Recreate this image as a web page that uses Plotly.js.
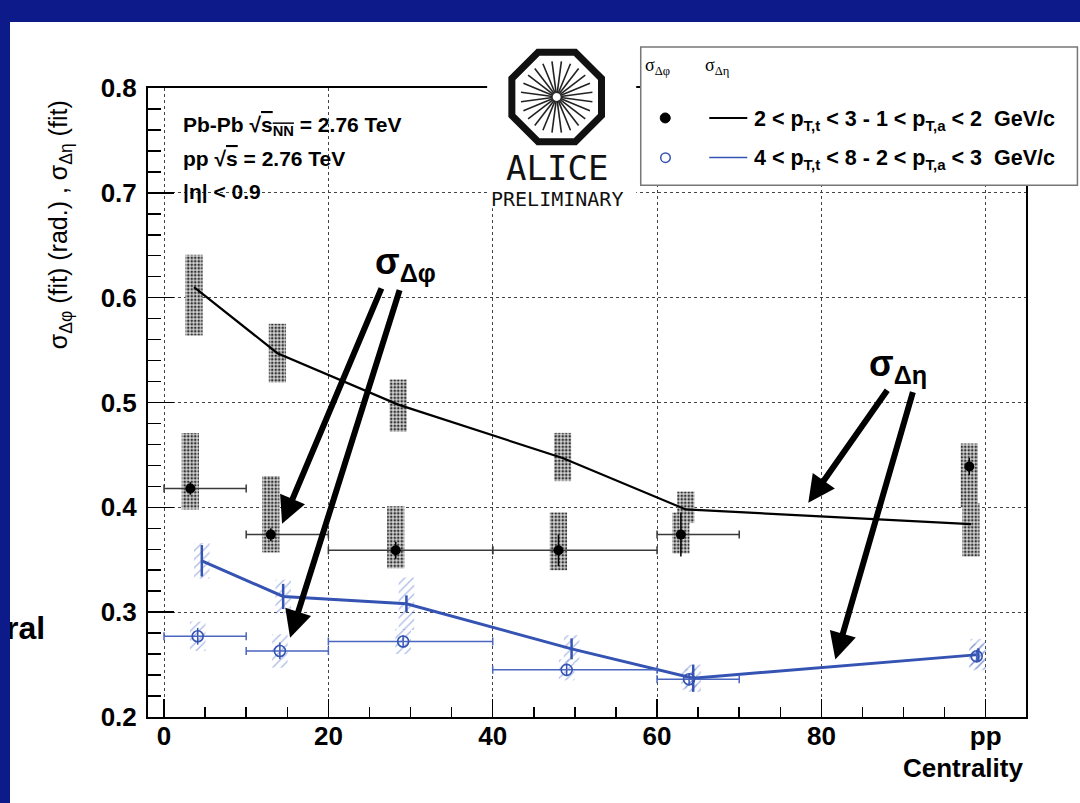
<!DOCTYPE html>
<html><head><meta charset="utf-8">
<script src="https://cdn.plot.ly/plotly-3.0.1.min.js"></script>
<style>
html,body{margin:0;padding:0;background:#0c1a8a;width:1080px;height:803px;overflow:hidden;}
#plot{position:absolute;left:10px;top:22px;width:1070px;height:781px;background:#fff;}
</style></head><body><div id="plot"></div>
<script>
// ---------------- data ----------------
const centralityTicks = [0, 20, 40, 60, 80, 100];
const centralityTickText = ['0', '20', '40', '60', '80', 'pp'];
const binLow  = [0, 10, 20, 40, 60, null];
const binHigh = [10, 20, 40, 60, 70, null];

// 2<pTt<3 - 1<pTa<2 GeV/c  (black)
const phiX_low     = [3.2, 13.0, 28.2, 48.0, 62.9, 98.0];
const phiY_low     = [0.418, 0.374, 0.359, 0.359, 0.374, 0.439];
const phiStat_low  = [0.006, 0.006, 0.008, 0.015, 0.021, 0.008];
const phiSysUp_low = [0.053, 0.056, 0.042, 0.036, 0.021, 0.022];
const phiSysDn_low = [0.020, 0.017, 0.017, 0.019, 0.018, 0.039];

const etaX_low     = [3.65, 13.8, 28.5, 48.5, 63.5, 98.2];
const etaY_low     = [0.610, 0.547, 0.498, 0.447, 0.398, 0.384];
const etaSysUp_low = [0.031, 0.028, 0.024, 0.024, 0.017, 0.020];
const etaSysDn_low = [0.046, 0.028, 0.026, 0.022, 0.013, 0.031];

// 4<pTt<8 - 2<pTa<3 GeV/c  (blue)
const phiX_high    = [4.1, 14.1, 29.1, 49.0, 63.9, 98.9];
const phiY_high    = [0.277, 0.263, 0.272, 0.245, 0.236, 0.258];
const phiStat_high = [0.008, 0.008, 0.006, 0.006, 0.006, 0.006];
const phiSys_high  = [0.014, 0.016, 0.012, 0.010, 0.010, 0.012];

const etaX_high    = [4.6, 14.5, 29.5, 49.6, 64.4, 99.1];
const etaY_high    = [0.349, 0.315, 0.308, 0.265, 0.237, 0.2595];
const etaStat_high = [0.015, 0.012, 0.008, 0.010, 0.013, 0.006];
const etaSys_high  = [0.017, 0.016, 0.025, 0.013, 0.013, 0.015];

// ---------------- helpers ----------------
const BLUE = '#3553b3';
const FONT = 'Liberation Sans, Arial, sans-serif';
const errPlus  = (xs) => xs.map((x, i) => binHigh[i] == null ? null : binHigh[i] - x);
const errMinus = (xs) => xs.map((x, i) => binLow[i] == null ? null : x - binLow[i]);
const PX = (X) => (X - 148) / 877.6;   // page px -> paper
const PY = (Y) => (717.5 - Y) / 630;

const grayBox = {color: '#9a9a9a', line: {width: 0},
  pattern: {shape: '.', fgcolor: '#333', bgcolor: '#d4d4d4', size: 3.5, solidity: 0.45, fillmode: 'replace'}};
const hatchBox = {color: 'rgba(0,0,0,0)', line: {width: 0},
  pattern: {shape: '/', fgcolor: '#5a78cc', bgcolor: 'rgba(0,0,0,0)', size: 6, solidity: 0.22, fillmode: 'overlay'}};

const traces = [
  // systematic boxes (black series)
  {type: 'bar', x: etaX_low, base: etaY_low.map((y, i) => y - etaSysDn_low[i]),
   y: etaSysUp_low.map((u, i) => u + etaSysDn_low[i]), width: 2.1, marker: grayBox, hoverinfo: 'skip'},
  {type: 'bar', x: phiX_low, base: phiY_low.map((y, i) => y - phiSysDn_low[i]),
   y: phiSysUp_low.map((u, i) => u + phiSysDn_low[i]), width: 2.1, marker: grayBox, hoverinfo: 'skip'},
  // systematic boxes (blue series, hatched)
  {type: 'bar', x: etaX_high, base: etaY_high.map((y, i) => y - etaSys_high[i]),
   y: etaSys_high.map(s => 2 * s), width: 1.9, marker: hatchBox, hoverinfo: 'skip'},
  {type: 'bar', x: phiX_high, base: phiY_high.map((y, i) => y - phiSys_high[i]),
   y: phiSys_high.map(s => 2 * s), width: 1.9, marker: hatchBox, hoverinfo: 'skip'},
  // sigma_deta lines
  {type: 'scatter', mode: 'lines', x: etaX_low, y: etaY_low, line: {color: '#000', width: 2.2}},
  {type: 'scatter', mode: 'lines', x: etaX_high, y: etaY_high, line: {color: BLUE, width: 3},
   error_y: {type: 'data', array: etaStat_high, color: BLUE, thickness: 2.5, width: 0}},
  // sigma_dphi points
  {type: 'scatter', mode: 'markers', x: phiX_low, y: phiY_low,
   marker: {symbol: 'circle', size: 10, color: '#000'},
   error_x: {type: 'data', symmetric: false, array: errPlus(phiX_low), arrayminus: errMinus(phiX_low), color: '#3a3a3a', thickness: 1.5, width: 4},
   error_y: {type: 'data', array: phiStat_low, color: '#000', thickness: 1.5, width: 0}},
  {type: 'scatter', mode: 'markers', x: phiX_high, y: phiY_high,
   marker: {symbol: 'circle-open', size: 11, color: BLUE, line: {width: 1.6, color: BLUE}},
   error_x: {type: 'data', symmetric: false, array: errPlus(phiX_high), arrayminus: errMinus(phiX_high), color: '#4a66bf', thickness: 1.5, width: 4},
   error_y: {type: 'data', array: phiStat_high, color: BLUE, thickness: 1.5, width: 0}}
];

// ---------------- decorations ----------------
const shapes = [];
// legend box
shapes.push({type: 'rect', xref: 'paper', yref: 'paper', layer: 'above',
  x0: PX(640.5), x1: PX(1077), y0: PY(185), y1: PY(46.5),
  fillcolor: '#fff', line: {color: '#777', width: 1.5}});
shapes.push({type: 'circle', xref: 'paper', yref: 'paper', layer: 'above',
  x0: PX(660), x1: PX(670), y0: PY(122.5), y1: PY(112.5), fillcolor: '#000', line: {color: '#000', width: 1}});
shapes.push({type: 'line', xref: 'paper', yref: 'paper', layer: 'above',
  x0: PX(709), x1: PX(747), y0: PY(117.5), y1: PY(117.5), line: {color: '#000', width: 2}});
shapes.push({type: 'circle', xref: 'paper', yref: 'paper', layer: 'above',
  x0: PX(660.5), x1: PX(670), y0: PY(162), y1: PY(152.5), fillcolor: 'rgba(0,0,0,0)', line: {color: BLUE, width: 1.5}});
shapes.push({type: 'line', xref: 'paper', yref: 'paper', layer: 'above',
  x0: PX(709), x1: PX(747), y0: PY(157), y1: PY(157), line: {color: BLUE, width: 1.5}});
// ALICE logo
shapes.push({type: 'rect', xref: 'paper', yref: 'paper', layer: 'above',
  x0: PX(487), x1: PX(636), y0: PY(208), y1: PY(40), fillcolor: '#fff', line: {width: 0}});
const cx = 556.5, cy = 96.5, R = 48.5;
let oct = '';
for (let k = 0; k < 8; k++) {
  const a = (22.5 + 45 * k) * Math.PI / 180;
  oct += (k === 0 ? 'M' : 'L') + PX(cx + R * Math.cos(a)).toFixed(5) + ',' + PY(cy + R * Math.sin(a)).toFixed(5);
}
oct += 'Z';
shapes.push({type: 'path', xref: 'paper', yref: 'paper', layer: 'above', path: oct,
  fillcolor: 'rgba(0,0,0,0)', line: {color: '#111', width: 7}});
for (let k = 0; k < 24; k++) {
  const a = (7.5 + 15 * k) * Math.PI / 180;
  shapes.push({type: 'line', xref: 'paper', yref: 'paper', layer: 'above',
    x0: PX(cx + 4 * Math.cos(a)), y0: PY(cy + 4 * Math.sin(a)),
    x1: PX(cx + 36 * Math.cos(a)), y1: PY(cy + 36 * Math.sin(a)),
    line: {color: '#222', width: 1.6}});
}

const ann = (x, y, text, size, opts) => Object.assign({xref: 'paper', yref: 'paper', x: PX(x), y: PY(y), text: text,
  showarrow: false, font: {family: FONT, size: size, color: '#000', weight: 'bold'}, xanchor: 'left', yanchor: 'middle'}, opts || {});
const arrow = (tx, ty, sx, sy) => ({xref: 'paper', yref: 'paper', x: PX(tx), y: PY(ty), ax: sx - tx, ay: sy - ty,
  text: '', showarrow: true, arrowhead: 2, arrowsize: 0.9, arrowwidth: 6, arrowcolor: '#000', standoff: 0});

const annotations = [
  ann(181, 126, 'Pb-Pb √<span style="text-decoration:overline">s<sub>NN</sub></span> = 2.76 TeV', 21),
  ann(181, 158, 'pp √<span style="text-decoration:overline">s</span> = 2.76 TeV', 21),
  ann(181, 191, '|η| < 0.9', 21),
  ann(60, 224, 'σ<sub>Δφ</sub> (fit) (rad.) , σ<sub>Δη</sub> (fit)', 25,
      {textangle: -90, xanchor: 'center', yanchor: 'middle', font: {family: FONT, size: 25, color: '#000', weight: 'normal'}}),
  ann(1025, 769, 'Centrality', 26, {xanchor: 'right'}),
  ann(47, 628, 'ral', 32, {xanchor: 'right'}),
  ann(373, 264, 'σ<sub>Δφ</sub>', 36),
  ann(867, 366, 'σ<sub>Δη</sub>', 36),
  // legend
  ann(643, 66, 'σ<sub>Δφ</sub>', 18, {font: {family: 'Liberation Serif, serif', size: 18, color: '#000'}}),
  ann(703, 66, 'σ<sub>Δη</sub>', 18, {font: {family: 'Liberation Serif, serif', size: 18, color: '#000'}}),
  ann(752, 120, '2 < p<sub>T,t</sub> < 3 - 1 < p<sub>T,a</sub> < 2  GeV/c', 21.5),
  ann(752, 159, '4 < p<sub>T,t</sub> < 8 - 2 < p<sub>T,a</sub> < 3  GeV/c', 21.5),
  // logo texts
  ann(556.5, 168, 'ALICE', 34, {xanchor: 'center', font: {family: 'DejaVu Sans Mono, monospace', size: 34, color: '#111'}}),
  ann(557, 199, 'PRELIMINARY', 20, {xanchor: 'center', font: {family: 'DejaVu Sans Mono, monospace', size: 20, color: '#111'}}),
  // arrows
  arrow(282, 524, 382, 287),
  arrow(290, 638, 400, 289),
  arrow(808, 503, 888, 389),
  arrow(835, 660, 913, 391)
];

const tickFont = {family: FONT, size: 26, color: '#000', weight: 'bold'};
const layout = {
  width: 1070, height: 781, autosize: false,
  margin: {l: 138, r: 54.4, t: 65.5, b: 85.5, pad: 0, autoexpand: false},
  paper_bgcolor: '#fff', plot_bgcolor: '#fff',
  showlegend: false, barmode: 'overlay',
  xaxis: {range: [-1.95, 104.9], tickmode: 'array', tickvals: centralityTicks, ticktext: centralityTickText,
    ticks: 'inside', ticklen: 18, tickwidth: 1.5, tickcolor: '#000',
    showline: true, linewidth: 2, linecolor: '#000', mirror: true,
    showgrid: true, gridcolor: '#444', gridwidth: 1, griddash: 'dot', zeroline: false,
    tickfont: tickFont, ticklabelstandoff: -5,
    minor: {tickmode: 'linear', tick0: 0, dtick: 5, ticks: 'inside', ticklen: 10, tickwidth: 1.5, tickcolor: '#000', showgrid: false}},
  yaxis: {range: [0.2, 0.8], tickmode: 'linear', tick0: 0.2, dtick: 0.1, tickformat: '.1f',
    ticks: 'inside', ticklen: 26, tickwidth: 1.5, tickcolor: '#000',
    showline: true, linewidth: 2, linecolor: '#000', mirror: true,
    showgrid: true, gridcolor: '#444', gridwidth: 1, griddash: 'dot', zeroline: false,
    tickfont: tickFont, ticklabelstandoff: 4,
    minor: {tickmode: 'linear', tick0: 0.2, dtick: 0.02, ticks: 'inside', ticklen: 13, tickwidth: 1.5, tickcolor: '#000', showgrid: false}},
  shapes: shapes,
  annotations: annotations
};

Plotly.newPlot('plot', traces, layout, {staticPlot: true, displayModeBar: false});
</script>
</body></html>
